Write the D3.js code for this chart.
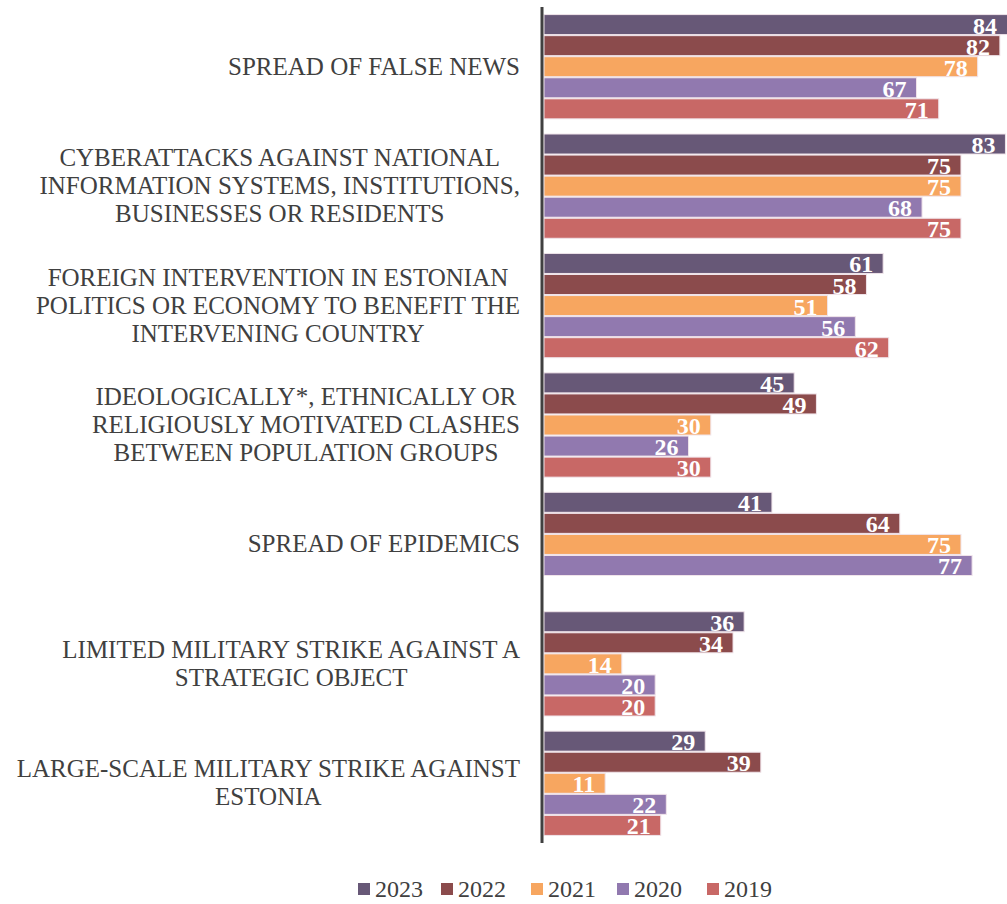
<!DOCTYPE html>
<html>
<head>
<meta charset="utf-8">
<script src="https://cdn.jsdelivr.net/npm/d3@7"></script>
<style>
  body { margin: 0; background: #fff; }
  svg { display: block; }
</style>
</head>
<body>
<div id="chart"></div>
<script>
// categories, top to bottom
var categories = [
  ["SPREAD OF FALSE NEWS"],
  ["CYBERATTACKS AGAINST NATIONAL", "INFORMATION SYSTEMS, INSTITUTIONS,", "BUSINESSES OR RESIDENTS"],
  ["FOREIGN INTERVENTION IN ESTONIAN", "POLITICS OR ECONOMY TO BENEFIT THE", "INTERVENING COUNTRY"],
  ["IDEOLOGICALLY*, ETHNICALLY OR", "RELIGIOUSLY MOTIVATED CLASHES", "BETWEEN POPULATION GROUPS"],
  ["SPREAD OF EPIDEMICS"],
  ["LIMITED MILITARY STRIKE AGAINST A", "STRATEGIC OBJECT"],
  ["LARGE-SCALE MILITARY STRIKE AGAINST", "ESTONIA"]
];
var years = ["2023", "2022", "2021", "2020", "2019"];
var colors = ["#675877", "#8b4b4c", "#f7a660", "#9179af", "#c86866"];

// one array per year, same order as categories (null = no data)
var v2023 = [84, 83, 61, 45, 41, 36, 29];
var v2022 = [82, 75, 58, 49, 64, 34, 39];
var v2021 = [78, 75, 51, 30, 75, 14, 11];
var v2020 = [67, 68, 56, 26, 77, 20, 22];
var v2019 = [71, 75, 62, 30, null, 20, 21];
var series = [v2023, v2022, v2021, v2020, v2019];

var font = "Liberation Serif, Times New Roman, serif";
var width = 1007, height = 904;
var svg = d3.select("#chart").append("svg")
  .attr("width", width)
  .attr("height", height);

// the longest bar runs off the right edge a little, like the original
var x = d3.scaleLinear().domain([0, 84]).range([544, 1011]);
var y0 = d3.scaleBand().domain(d3.range(categories.length)).range([7, 843]);
var y1 = d3.scaleBand().domain(years).range([0, y0.bandwidth()])
  .paddingInner(0.05).paddingOuter(0.36);
var color = d3.scaleOrdinal().domain(years).range(colors);

var rows = [];
categories.forEach(function(c, i) {
  years.forEach(function(yr, j) {
    if (series[j][i] != null) rows.push({ cat: i, year: yr, value: series[j][i] });
  });
});

var bars = svg.append("g").selectAll("g")
  .data(rows).enter().append("g");

bars.append("rect")
  .attr("x", x(0))
  .attr("y", function(d) { return y0(d.cat) + y1(d.year); })
  .attr("width", function(d) { return x(d.value) - x(0); })
  .attr("height", y1.bandwidth())
  .attr("fill", function(d) { return color(d.year); })
  .attr("stroke", "#f0e4ea")
  .attr("stroke-width", 1);

bars.append("text")
  .attr("x", function(d) { return Math.min(x(d.value), 1007) - 10; })
  .attr("y", function(d) { return y0(d.cat) + y1(d.year) + y1.bandwidth() - 1; })
  .attr("text-anchor", "end")
  .attr("font-family", font)
  .attr("font-weight", "bold")
  .attr("font-size", 24)
  .attr("fill", "#fff")
  .text(function(d) { return d.value; });

// axis line
svg.append("line")
  .attr("x1", 542).attr("x2", 542)
  .attr("y1", y0.range()[0]).attr("y2", y0.range()[1])
  .attr("stroke", "#404040")
  .attr("stroke-width", 3);

// category labels: block right-aligned, lines centred in block
var lineH = 28;
var labels = svg.append("g").selectAll("g")
  .data(categories).enter().append("g");

labels.each(function(lines, i) {
  var g = d3.select(this);
  var cy = y0(i) + y0.bandwidth() / 2;
  var t = g.selectAll("text").data(lines).enter().append("text")
    .attr("font-family", font)
    .attr("font-size", 25)
    .attr("fill", "#404040")
    .attr("text-anchor", "middle")
    .attr("y", function(d, k) { return cy + (k - (lines.length - 1) / 2) * lineH + 8; })
    .text(function(d) { return d; });
  var maxW = 0;
  t.each(function() { maxW = Math.max(maxW, this.getComputedTextLength()); });
  t.attr("x", 520 - maxW / 2);
});

// legend
var legendX = [358, 441, 531, 617, 707];
var legend = svg.append("g").selectAll("g")
  .data(years).enter().append("g")
  .attr("transform", function(d, i) { return "translate(" + legendX[i] + ",883)"; });

legend.append("rect")
  .attr("width", 12).attr("height", 12)
  .attr("fill", function(d) { return color(d); });

legend.append("text")
  .attr("x", 17).attr("y", 14)
  .attr("font-family", font)
  .attr("font-size", 24)
  .attr("fill", "#404040")
  .text(function(d) { return d; });
</script>
</body>
</html>
